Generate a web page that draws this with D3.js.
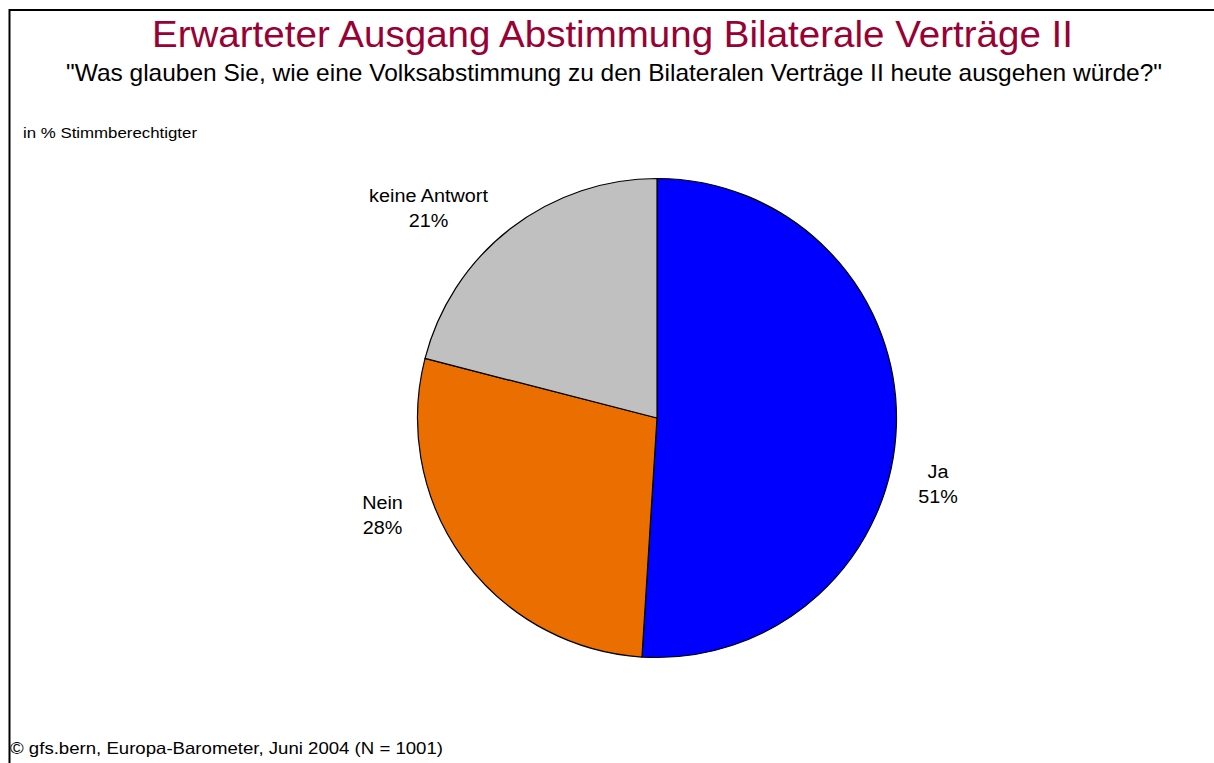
<!DOCTYPE html>
<html>
<head>
<meta charset="utf-8">
<script src="https://cdn.jsdelivr.net/npm/d3@7"></script>
<style>
  html, body { margin: 0; padding: 0; background: #fff; overflow: hidden; }
  text { font-family: "Liberation Sans", Arial, sans-serif; fill: #000; }
</style>
</head>
<body>
<svg id="chart" width="1214" height="763"></svg>
<script>
// ---- data ----
const categories = ["Ja", "Nein", "keine Antwort"];
const values = [51, 28, 21];
const colors = ["#0000FF", "#EA6E00", "#C0C0C0"];
const titleText = "Erwarteter Ausgang Abstimmung Bilaterale Verträge II";
const subtitleText = "\"Was glauben Sie, wie eine Volksabstimmung zu den Bilateralen Verträge II heute ausgehen würde?\"";
const unitText = "in % Stimmberechtigter";
const sourceText = "© gfs.bern, Europa-Barometer, Juni 2004 (N = 1001)";

// ---- layout ----
const W = 1214, H = 763;
const cx = 657, cy = 418, R = 239.5;
// label anchor offsets from pie center (first line baseline)
const labelOffsets = [[281, 60], [-274.5, 91], [-228.5, -216]];
const lineGap = 24.5;
const stretch = 1.1;

const svg = d3.select("#chart");

// frame (top + left lines visible, rest runs off page)
svg.append("rect")
  .attr("x", 9.5).attr("y", 10)
  .attr("width", 1400).attr("height", 900)
  .attr("fill", "none").attr("stroke", "#000").attr("stroke-width", 2);

function fitText(sel, target) {
  sel.attr("textLength", target).attr("lengthAdjust", "spacingAndGlyphs");
}

svg.append("text")
  .attr("x", 612.5).attr("y", 47)
  .attr("text-anchor", "middle")
  .style("font-size", "37px").style("fill", "#990033")
  .text(titleText)
  .call(fitText, 921);

svg.append("text")
  .attr("x", 614).attr("y", 81)
  .attr("text-anchor", "middle")
  .style("font-size", "24px")
  .text(subtitleText)
  .call(fitText, 1096);

svg.append("text")
  .attr("x", 23).attr("y", 138)
  .style("font-size", "15.5px")
  .text(unitText)
  .call(fitText, 174);

svg.append("text")
  .attr("x", 10).attr("y", 754)
  .style("font-size", "16.5px")
  .text(sourceText)
  .call(fitText, 433);

// ---- pie ----
const pie = d3.pie().sort(null).value(d => d.value).startAngle(0).endAngle(2 * Math.PI);
const data = categories.map((c, i) => ({ cat: c, value: values[i], color: colors[i], off: labelOffsets[i] }));
const arcs = pie(data);
const arc = d3.arc().innerRadius(0).outerRadius(R);

const g = svg.append("g").attr("transform", `translate(${cx},${cy})`);
g.selectAll("path.slice")
  .data(arcs)
  .join("path")
  .attr("class", "slice")
  .attr("d", arc)
  .attr("fill", d => d.data.color)
  .attr("stroke", "#000")
  .attr("stroke-width", 1.2)
  .attr("stroke-linejoin", "round");

const labels = g.selectAll("g.lbl")
  .data(arcs)
  .join("g")
  .attr("class", "lbl")
  .attr("transform", d => `translate(${d.data.off[0]},${d.data.off[1]})`);

labels.each(function(d) {
  const lg = d3.select(this);
  const lines = [d.data.cat, d.data.value + "%"];
  lines.forEach((t, k) => {
    const tx = lg.append("text")
      .attr("x", 0).attr("y", k * lineGap)
      .attr("text-anchor", "middle")
      .style("font-size", "18px")
      .text(t);
    const w = tx.node().getComputedTextLength();
    tx.call(fitText, w * stretch);
  });
});
</script>
</body>
</html>
